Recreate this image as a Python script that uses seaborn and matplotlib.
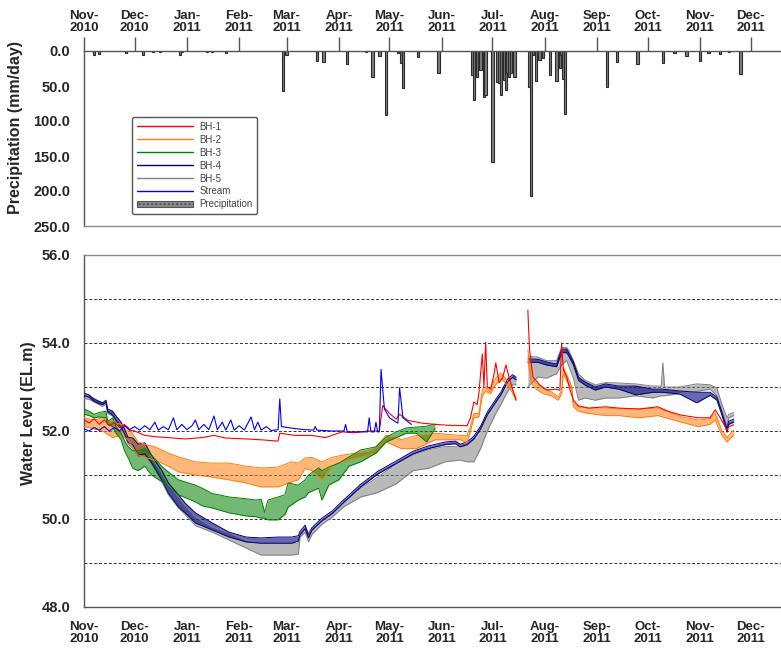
import matplotlib
matplotlib.use("Agg")
import matplotlib.pyplot as plt
from matplotlib.lines import Line2D
from matplotlib.patches import Patch
from matplotlib.ticker import MultipleLocator
import pandas as pd
import seaborn as sns

sns.set_style("white")
plt.rcParams["font.family"] = ["Liberation Sans", "DejaVu Sans"]

# ---------------- daily precipitation (mm/day) ----------------
rain_dates = ["2010-11-07", "2010-11-10", "2010-11-26", "2010-12-06", "2010-12-12", "2010-12-16",
              "2010-12-28", "2010-12-29", "2011-01-13", "2011-01-16", "2011-01-24", "2011-02-27",
              "2011-03-01", "2011-03-19", "2011-03-23", "2011-04-06", "2011-04-17", "2011-04-21",
              "2011-04-25", "2011-04-29", "2011-05-06", "2011-05-08", "2011-05-09", "2011-05-18",
              "2011-05-30", "2011-06-19", "2011-06-20", "2011-06-22", "2011-06-24", "2011-06-26",
              "2011-06-27", "2011-07-01", "2011-07-04", "2011-07-05", "2011-07-06", "2011-07-08",
              "2011-07-09", "2011-07-10", "2011-07-11", "2011-07-12", "2011-07-14", "2011-07-23",
              "2011-07-24", "2011-07-25", "2011-07-27", "2011-07-29", "2011-07-31", "2011-08-04",
              "2011-08-08", "2011-08-10", "2011-08-11", "2011-08-12", "2011-08-13", "2011-09-07",
              "2011-09-13", "2011-09-25", "2011-10-10", "2011-10-17", "2011-10-24", "2011-11-01",
              "2011-11-06", "2011-11-13", "2011-11-18", "2011-11-25"]
rain_mm = [5, 4, 3, 5, 2, 2,
           5, 2, 2, 2, 3, 57,
           5, 14, 16, 19, 2, 37,
           7, 91, 3, 17, 53, 8,
           32, 34, 70, 37, 27, 66,
           63, 159, 44, 46, 63, 41,
           56, 32, 37, 32, 37, 51,
           207, 5, 43, 13, 10, 34,
           43, 24, 5, 40, 90, 51,
           16, 19, 17, 3, 7, 14,
           3, 4, 2, 33]

# ---------------- BH-1 (single trace) ----------------
bh1_dates = ["2010-11-01", "2010-11-04", "2010-11-07", "2010-11-10", "2010-11-13", "2010-11-16",
             "2010-11-19", "2010-11-22", "2010-11-25", "2010-11-28", "2010-12-01", "2010-12-07",
             "2010-12-13", "2010-12-21", "2010-12-31", "2011-01-10", "2011-01-17", "2011-01-24",
             "2011-02-05", "2011-02-14", "2011-02-24", "2011-02-25", "2011-03-06", "2011-03-16",
             "2011-03-24", "2011-04-03", "2011-04-10", "2011-04-18", "2011-04-25", "2011-04-27",
             "2011-05-01", "2011-05-05", "2011-05-07", "2011-05-12", "2011-05-20", "2011-05-28",
             "2011-06-05", "2011-06-16", "2011-06-18", "2011-06-20", "2011-06-22", "2011-06-23",
             "2011-06-25", "2011-06-26", "2011-06-27", "2011-06-28", "2011-06-30", "2011-07-02",
             "2011-07-03", "2011-07-05", "2011-07-07", "2011-07-09", "2011-07-11", "2011-07-13",
             "2011-07-15",
             "2011-07-22", "2011-07-23", "2011-07-25", "2011-07-29", "2011-08-02", "2011-08-07",
             "2011-08-10", "2011-08-11", "2011-08-12", "2011-08-14", "2011-08-16", "2011-08-18",
             "2011-08-21", "2011-08-27", "2011-09-06", "2011-09-14", "2011-09-26", "2011-10-07",
             "2011-10-13", "2011-10-21", "2011-10-31", "2011-11-07", "2011-11-10", "2011-11-13",
             "2011-11-17", "2011-11-18", "2011-11-21"]
bh1_level = [52.25, 52.18, 52.28, 52.15, 52.25, 52.12,
             52.20, 52.08, 52.15, 52.02, 52.00, 51.90,
             51.87, 51.85, 51.82, 51.85, 51.90, 51.84,
             51.82, 51.80, 51.77, 51.95, 51.90, 51.90,
             51.85, 51.98, 51.96, 52.00, 52.00, 52.58,
             52.40, 52.27, 52.38, 52.24, 52.18, 52.15,
             52.13, 52.12, 52.30, 52.66, 52.60, 52.86,
             53.75, 53.00, 54.02, 53.00, 52.95, 53.30,
             53.55, 53.10, 53.20, 53.50, 53.20, 52.95,
             52.70,
             54.75, 53.84, 53.23, 53.05, 52.93, 52.95,
             52.93, 54.00, 53.40, 53.23, 52.93, 52.70,
             52.57, 52.52, 52.55, 52.52, 52.50, 52.55,
             52.45, 52.36, 52.30, 52.30, 52.48, 52.30,
             52.02, 52.10, 52.14]

# ---------------- BH-2 (daily low / high) ----------------
bh2_dates = ["2010-11-01", "2010-11-07", "2010-11-12", "2010-11-18", "2010-11-23", "2010-11-27",
             "2010-12-03", "2010-12-07", "2010-12-13", "2010-12-21", "2010-12-27", "2011-01-06",
             "2011-01-16", "2011-01-26", "2011-02-05", "2011-02-14", "2011-02-24", "2011-03-04",
             "2011-03-08", "2011-03-12", "2011-03-16", "2011-03-22", "2011-03-28", "2011-04-03",
             "2011-04-11", "2011-04-19", "2011-04-23", "2011-04-29", "2011-05-05", "2011-05-08",
             "2011-05-17", "2011-05-28", "2011-06-12", "2011-06-16", "2011-06-18", "2011-06-20",
             "2011-06-23", "2011-06-25", "2011-06-27", "2011-06-30", "2011-07-02", "2011-07-06",
             "2011-07-11", "2011-07-15",
             "2011-07-22", "2011-07-24", "2011-07-27", "2011-07-31", "2011-08-05", "2011-08-09",
             "2011-08-11", "2011-08-12", "2011-08-16", "2011-08-17", "2011-08-18", "2011-08-21",
             "2011-08-27", "2011-09-06", "2011-09-14", "2011-09-26", "2011-10-07", "2011-10-21",
             "2011-10-31", "2011-11-07", "2011-11-10", "2011-11-14", "2011-11-17", "2011-11-18",
             "2011-11-21"]
bh2_low = [52.10, 52.05, 52.00, 51.85, 51.90, 51.80,
           51.45, 51.40, 51.34, 51.20, 51.07, 51.00,
           50.95, 50.89, 50.82, 50.73, 50.73, 50.84,
           50.89, 51.15, 51.10, 50.89, 51.20, 51.30,
           51.38, 51.45, 51.50, 51.75, 51.65, 51.60,
           51.60, 51.80, 51.80, 51.73, 52.00, 52.30,
           52.32, 52.80, 52.90, 52.85, 53.00, 53.20,
           53.00, 52.70,
           53.60, 53.10, 52.95, 52.85, 52.80, 52.70,
           52.85, 53.30, 53.00, 52.95, 52.55, 52.45,
           52.40, 52.35, 52.35, 52.30, 52.35, 52.20,
           52.10, 52.15, 52.25, 51.90, 51.75, 51.80,
           51.90]
bh2_high = [52.30, 52.25, 52.30, 52.20, 52.15, 52.10,
            51.75, 51.70, 51.64, 51.50, 51.41, 51.30,
            51.27, 51.27, 51.20, 51.16, 51.18, 51.30,
            51.27, 51.39, 51.40, 51.30, 51.40, 51.45,
            51.50, 51.55, 51.64, 51.90, 51.86, 51.80,
            51.90, 51.95, 51.90, 51.90, 52.10, 52.40,
            52.40, 52.93, 53.00, 52.89, 53.16, 53.32,
            53.09, 52.75,
            53.84, 53.20, 53.09, 52.98, 52.89, 52.77,
            52.93, 53.45, 53.11, 53.00, 52.65, 52.55,
            52.52, 52.52, 52.50, 52.50, 52.52, 52.32,
            52.25, 52.28, 52.40, 52.02, 51.85, 51.90,
            52.02]

# ---------------- BH-3 (daily low / high) ----------------
bh3_dates = ["2010-11-01", "2010-11-04", "2010-11-07", "2010-11-10", "2010-11-14", "2010-11-15",
             "2010-11-18", "2010-11-20", "2010-11-23", "2010-11-25", "2010-11-27", "2010-11-30",
             "2010-12-03", "2010-12-07", "2010-12-11", "2010-12-17", "2010-12-21", "2010-12-27",
             "2011-01-06", "2011-01-10", "2011-01-16", "2011-01-26", "2011-02-05", "2011-02-11",
             "2011-02-14", "2011-02-16", "2011-02-18", "2011-02-24", "2011-02-28", "2011-03-02",
             "2011-03-08", "2011-03-12", "2011-03-14", "2011-03-20", "2011-03-22", "2011-03-26",
             "2011-04-01", "2011-04-07", "2011-04-14", "2011-04-23", "2011-04-29", "2011-05-05",
             "2011-05-11", "2011-05-17", "2011-05-23", "2011-05-28"]
bh3_low = [52.38, 52.35, 52.30, 52.32, 52.30, 52.15,
           52.10, 51.95, 51.80, 51.55, 51.40, 51.15,
           51.10, 51.20, 51.00, 50.85, 50.73, 50.55,
           50.39, 50.30, 50.25, 50.14, 50.07, 50.05,
           50.02, 50.02, 49.98, 49.98, 50.10, 50.27,
           50.43, 50.50, 50.60, 50.70, 50.43, 50.77,
           50.89, 51.20, 51.30, 51.50, 51.75, 51.85,
           51.95, 51.95, 51.75, 52.05]
bh3_high = [52.50, 52.45, 52.38, 52.42, 52.45, 52.22,
            52.30, 52.10, 51.95, 51.78, 51.65, 51.55,
            51.55, 51.60, 51.45, 51.20, 51.07, 50.89,
            50.77, 50.70, 50.58, 50.50, 50.46, 50.43,
            50.45, 50.15, 50.43, 50.50, 50.55, 50.82,
            50.77, 50.89, 51.00, 51.16, 51.10, 51.18,
            51.27, 51.41, 51.57, 51.64, 51.86, 51.98,
            52.07, 52.09, 52.11, 52.16]

# ---------------- BH-4 (daily low / high) ----------------
bh4_dates = ["2010-11-01", "2010-11-04", "2010-11-07", "2010-11-10", "2010-11-12", "2010-11-14",
             "2010-11-15", "2010-11-18", "2010-11-20", "2010-11-23", "2010-11-25", "2010-11-27",
             "2010-11-30", "2010-12-03", "2010-12-07", "2010-12-11", "2010-12-17", "2010-12-21",
             "2010-12-27", "2010-12-31", "2011-01-06", "2011-01-16", "2011-01-26", "2011-02-05",
             "2011-02-14", "2011-02-24", "2011-03-04", "2011-03-08", "2011-03-09", "2011-03-12",
             "2011-03-14", "2011-03-16", "2011-03-22", "2011-03-28", "2011-04-04", "2011-04-14",
             "2011-04-24", "2011-05-05", "2011-05-15", "2011-05-24", "2011-06-03", "2011-06-09",
             "2011-06-12", "2011-06-16", "2011-06-20", "2011-06-24", "2011-06-28", "2011-07-03",
             "2011-07-06", "2011-07-10", "2011-07-13", "2011-07-15",
             "2011-07-22", "2011-07-28", "2011-08-02", "2011-08-08", "2011-08-11", "2011-08-14",
             "2011-08-15", "2011-08-18", "2011-08-21", "2011-08-25", "2011-08-31", "2011-09-06",
             "2011-09-14", "2011-09-24", "2011-10-04", "2011-10-10", "2011-10-20", "2011-10-30",
             "2011-11-07", "2011-11-11", "2011-11-14", "2011-11-17", "2011-11-18", "2011-11-21"]
bh4_low = [52.80, 52.77, 52.67, 52.62, 52.60, 52.65,
           52.44, 52.36, 52.24, 52.08, 51.94, 51.75,
           51.68, 51.45, 51.48, 51.28, 50.89, 50.59,
           50.27, 50.14, 49.91, 49.75, 49.59, 49.48,
           49.45, 49.45, 49.45, 49.50, 49.64, 49.78,
           49.57, 49.74, 49.96, 50.12, 50.38, 50.73,
           51.02, 51.26, 51.48, 51.60, 51.69, 51.71,
           51.64, 51.69, 51.82, 52.05, 52.37, 52.66,
           52.82, 53.12, 53.22, 53.16,
           53.56, 53.56, 53.50, 53.46, 53.78, 53.78,
           53.72, 53.50, 53.15, 53.04, 52.93, 53.00,
           52.95, 52.82, 52.88, 52.88, 52.84, 52.64,
           52.81, 52.70, 52.36, 51.97, 52.15, 52.20]
bh4_high = [52.86, 52.82, 52.72, 52.67, 52.64, 52.70,
            52.50, 52.45, 52.34, 52.20, 52.05, 51.86,
            51.84, 51.70, 51.73, 51.45, 51.11, 50.82,
            50.55, 50.36, 50.14, 49.91, 49.70, 49.59,
            49.57, 49.59, 49.59, 49.62, 49.72, 49.86,
            49.65, 49.80, 50.02, 50.18, 50.44, 50.79,
            51.08, 51.32, 51.54, 51.66, 51.75, 51.77,
            51.70, 51.75, 51.88, 52.11, 52.43, 52.72,
            52.88, 53.18, 53.28, 53.22,
            53.64, 53.63, 53.57, 53.52, 53.86, 53.86,
            53.79, 53.57, 53.22, 53.11, 53.00, 53.07,
            53.02, 53.02, 52.95, 52.95, 52.91, 52.88,
            52.88, 52.77, 52.43, 52.04, 52.22, 52.27]

# ---------------- BH-5 (daily low / high) ----------------
bh5_dates = ["2010-11-01", "2010-11-04", "2010-11-07", "2010-11-10", "2010-11-12", "2010-11-14",
             "2010-11-15", "2010-11-18", "2010-11-20", "2010-11-23", "2010-11-25", "2010-11-27",
             "2010-11-30", "2010-12-03", "2010-12-07", "2010-12-11", "2010-12-17", "2010-12-21",
             "2010-12-27", "2010-12-31", "2011-01-06", "2011-01-16", "2011-01-26", "2011-02-05",
             "2011-02-14", "2011-02-24", "2011-03-04", "2011-03-08", "2011-03-09", "2011-03-12",
             "2011-03-14", "2011-03-16", "2011-03-22", "2011-03-28", "2011-04-04", "2011-04-14",
             "2011-04-24", "2011-05-05", "2011-05-15", "2011-05-24", "2011-06-03", "2011-06-12",
             "2011-06-16", "2011-06-20", "2011-06-24", "2011-06-28", "2011-07-03", "2011-07-06",
             "2011-07-10", "2011-07-13", "2011-07-15",
             "2011-07-22", "2011-07-28", "2011-08-02", "2011-08-08", "2011-08-11", "2011-08-14",
             "2011-08-15", "2011-08-18", "2011-08-21", "2011-08-25", "2011-08-31", "2011-09-06",
             "2011-09-14", "2011-09-24", "2011-10-04", "2011-10-09", "2011-10-10", "2011-10-11",
             "2011-10-20", "2011-10-30", "2011-11-07", "2011-11-11", "2011-11-14", "2011-11-17",
             "2011-11-18", "2011-11-21"]
bh5_low = [52.74, 52.72, 52.66, 52.60, 52.56, 52.62,
           52.40, 52.34, 52.20, 52.05, 51.90, 51.72,
           51.60, 51.42, 51.45, 51.25, 50.85, 50.55,
           50.25, 50.10, 49.85, 49.70, 49.52, 49.34,
           49.18, 49.18, 49.18, 49.20, 49.58, 49.70,
           49.48, 49.64, 49.88, 50.04, 50.28, 50.50,
           50.60, 50.80, 51.10, 51.15, 51.30, 51.34,
           51.30, 51.30, 51.60, 52.00, 52.40, 52.60,
           52.90, 53.05, 53.05,
           53.00, 53.23, 53.20, 53.30, 53.50, 53.60,
           53.50, 53.20, 52.70, 52.75, 52.70, 52.75,
           52.75, 52.80, 52.75, 52.80, 52.80, 52.80,
           52.85, 52.90, 52.95, 52.80, 52.45, 52.10,
           52.30, 52.35]
bh5_high = [52.82, 52.80, 52.74, 52.68, 52.64, 52.68,
            52.48, 52.44, 52.30, 52.16, 52.00, 51.84,
            51.80, 51.68, 51.70, 51.40, 51.05, 50.78,
            50.50, 50.30, 50.05, 49.82, 49.68, 49.52,
            49.45, 49.45, 49.45, 49.45, 49.65, 49.80,
            49.58, 49.72, 49.95, 50.10, 50.38, 50.70,
            50.95, 51.25, 51.45, 51.57, 51.65, 51.64,
            51.66, 51.80, 52.00, 52.35, 52.62, 52.80,
            53.10, 53.22, 53.18,
            53.70, 53.68, 53.60, 53.60, 53.90, 53.90,
            53.85, 53.60, 53.30, 53.15, 53.05, 53.10,
            53.09, 53.07, 53.02, 53.02, 53.55, 53.00,
            53.00, 53.07, 53.05, 52.98, 52.60, 52.30,
            52.38, 52.42]

# ---------------- Stream stage ----------------
stream_dates = ["2010-11-01", "2010-11-04", "2010-11-07", "2010-11-10", "2010-11-13", "2010-11-16",
                "2010-11-19", "2010-11-22", "2010-11-25", "2010-11-28", "2010-12-01", "2010-12-04",
                "2010-12-07", "2010-12-10", "2010-12-13", "2010-12-15", "2010-12-18", "2010-12-21",
                "2010-12-24", "2010-12-26", "2010-12-29", "2011-01-01", "2011-01-04", "2011-01-06",
                "2011-01-08", "2011-01-11", "2011-01-14", "2011-01-17", "2011-01-19", "2011-01-22",
                "2011-01-24", "2011-01-27", "2011-01-29", "2011-02-01", "2011-02-04", "2011-02-08",
                "2011-02-10", "2011-02-12", "2011-02-14", "2011-02-17", "2011-02-20", "2011-02-24",
                "2011-02-25", "2011-02-26", "2011-03-05", "2011-03-12", "2011-03-17", "2011-03-18",
                "2011-03-19", "2011-03-28", "2011-04-04", "2011-04-05", "2011-04-06", "2011-04-18",
                "2011-04-19", "2011-04-20", "2011-04-22", "2011-04-23", "2011-04-24", "2011-04-25",
                "2011-04-26", "2011-04-28", "2011-05-01", "2011-05-05", "2011-05-06", "2011-05-07",
                "2011-05-09", "2011-05-14"]
stream_level = [52.05, 52.00, 52.08, 52.02, 52.10, 52.00,
                52.08, 52.00, 52.12, 52.03, 52.10, 52.02,
                52.12, 52.03, 52.20, 52.02, 52.10, 52.03,
                52.30, 52.03, 52.15, 52.03, 52.12, 52.25,
                52.03, 52.15, 52.03, 52.34, 52.03, 52.20,
                52.02, 52.25, 52.02, 52.12, 52.02, 52.32,
                52.03, 52.20, 52.02, 52.10, 52.01, 52.03,
                52.73, 52.10, 52.06, 52.03, 52.02, 52.10,
                52.02, 52.00, 52.00, 52.15, 51.98, 51.98,
                52.30, 51.98, 51.98, 52.20, 51.98, 51.98,
                53.40, 52.50, 52.30, 52.20, 52.18, 52.98,
                52.30, 52.15]

GAP_START = pd.Timestamp("2011-07-18")
AX_GRAY = "#555555"

fig = plt.figure(figsize=(7.81, 6.52), dpi=100)
W, H = 781.0, 652.0
ax_p = fig.add_axes([84 / W, (H - 226) / H, 697 / W, 175 / H])
ax_w = fig.add_axes([84 / W, (H - 607) / H, 697 / W, 352 / H])


def frame(dates, **cols):
    df = pd.DataFrame({"date": pd.to_datetime(dates), **cols})
    df["seg"] = (df["date"] > GAP_START).astype(int)
    return df


def draw_band(ax, df, color, alpha):
    for _, part in df.groupby("seg"):
        ax.fill_between(part["date"], part["low"], part["high"], color=color,
                        alpha=alpha, lw=0, zorder=2)
    for col in ("low", "high"):
        sns.lineplot(data=df, x="date", y=col, units="seg", estimator=None, sort=False,
                     color=color, lw=0.7, ax=ax, legend=False, zorder=3)


def draw_line(ax, df, color):
    sns.lineplot(data=df, x="date", y="level", units="seg", estimator=None, sort=False,
                 color=color, lw=0.8, ax=ax, legend=False, zorder=4)


# ---------------- water levels ----------------
draw_band(ax_w, frame(bh5_dates, low=bh5_low, high=bh5_high), "#808080", 0.55)
draw_band(ax_w, frame(bh4_dates, low=bh4_low, high=bh4_high), "#000080", 0.6)
draw_band(ax_w, frame(bh2_dates, low=bh2_low, high=bh2_high), "#ff7f0e", 0.55)
draw_band(ax_w, frame(bh3_dates, low=bh3_low, high=bh3_high), "#008000", 0.55)
draw_line(ax_w, frame(bh1_dates, level=bh1_level), "#ff0000")
draw_line(ax_w, frame(stream_dates, level=stream_level), "#0000ff")

# ---------------- precipitation ----------------
ax_p.bar(pd.to_datetime(rain_dates), rain_mm, width=1.4, color="#7d7d7d",
         edgecolor="#2b2b2b", linewidth=0.8, zorder=2)

# ---------------- axes styling ----------------
x0 = pd.Timestamp("2010-11-01")
x1 = x0 + pd.Timedelta(days=413)
month_ticks = pd.date_range("2010-11-01", "2011-12-01", freq="MS")
month_labels = [d.strftime("%b-\n%Y") for d in month_ticks]

for ax in (ax_p, ax_w):
    ax.set_xlim(x0, x1)
    ax.set_xlabel("")
    ax.set_xticks(month_ticks)
    ax.set_xticklabels(month_labels, fontsize=9.5, fontweight="bold", linespacing=1.05)
    ax.spines["right"].set_visible(False)
    for s in ("left", "top", "bottom"):
        ax.spines[s].set_color(AX_GRAY)
        ax.spines[s].set_linewidth(1.0)
    ax.tick_params(axis="both", which="both", direction="out", color=AX_GRAY,
                   width=1.0, length=7, pad=3)

# precipitation axis: inverted, dates on top
ax_p.set_ylim(250, 0)
ax_p.xaxis.tick_top()
ax_p.tick_params(axis="x", length=10, pad=2)
ax_p.set_yticks(range(0, 251, 50))
ax_p.set_yticklabels([f"{v:.1f}" for v in range(0, 251, 50)], fontsize=10.5, fontweight="bold")
ax_p.yaxis.set_minor_locator(MultipleLocator(25))
ax_p.spines["bottom"].set_color("#888888")
ax_p.set_ylabel("Precipitation (mm/day)", fontsize=11.5, fontweight="bold")
ax_p.yaxis.set_label_coords(-0.087, 0.56)

# water level axis
ax_w.set_ylim(48, 56)
ax_w.set_yticks(range(48, 57, 2))
ax_w.set_yticklabels([f"{v:.1f}" for v in range(48, 57, 2)], fontsize=10.5, fontweight="bold")
ax_w.yaxis.set_minor_locator(MultipleLocator(1))
ax_w.set_axisbelow(True)
ax_w.yaxis.grid(True, which="both", linestyle=(0, (3, 2)), color="#333333", lw=0.7)
ax_w.xaxis.grid(False)
ax_w.spines["top"].set_color("#888888")
ax_w.set_ylabel("Water Level (EL.m)", fontsize=11.5, fontweight="bold")
ax_w.yaxis.set_label_coords(-0.069, 0.55)

# ---------------- legend ----------------
handles = [Line2D([], [], color=c, lw=1.0) for c in
           ("#ff0000", "#ff7f0e", "#008000", "#000080", "#808080", "#0000ff")]
handles.append(Patch(facecolor="#8a8a8a", edgecolor="#555555", hatch="....", lw=0.8))
labels = ["BH-1", "BH-2", "BH-3", "BH-4", "BH-5", "Stream", "Precipitation"]
leg = ax_p.legend(handles, labels, loc="upper left", bbox_to_anchor=(0.069, 0.623),
                  borderaxespad=0, fontsize=7, handlelength=5.8, handletextpad=0.6,
                  labelspacing=0.3, borderpad=0.5, fancybox=True, framealpha=1,
                  edgecolor="#555555", labelcolor="#444444")
leg.get_frame().set_linewidth(1.0)

fig.savefig("out.png", dpi=100)
